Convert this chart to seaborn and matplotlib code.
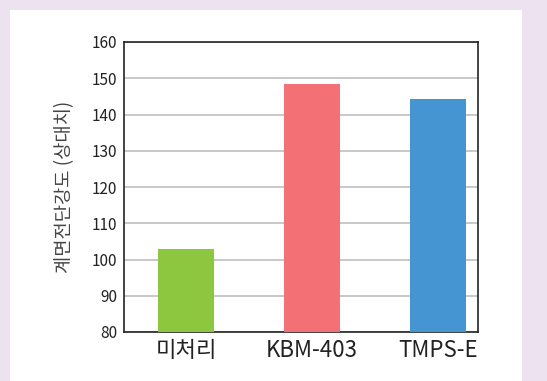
import matplotlib
matplotlib.use("Agg")
import matplotlib.pyplot as plt
import matplotlib.patches as mpatches
import seaborn as sns
import pandas as pd

# data
categories = ["미처리", "KBM-403", "TMPS-E"]
values = [102.9, 148.3, 144.2]
bar_colors = ["#8dc63f", "#f37174", "#4595d3"]
y_ticks = [80, 90, 100, 110, 120, 130, 140, 150, 160]

sns.set_style("white")
plt.rcParams['font.family'] = ['Noto Sans CJK KR', 'DejaVu Sans']

df = pd.DataFrame({"cat": categories, "val": values})

W, H = 547, 381
fig = plt.figure(figsize=(W / 100, H / 100), dpi=100)
fig.patch.set_facecolor("#ede3f0")

# white panel
panel = mpatches.Rectangle((10 / W, 0), (522 - 10) / W, (H - 10) / H,
                           transform=fig.transFigure, facecolor="white",
                           edgecolor="none", zorder=0)
fig.patches.append(panel)

ax = fig.add_axes([124 / W, 1 - 332 / H, (478 - 124) / W, (332 - 42) / H])
ax.set_facecolor("white")
ax.set_zorder(1)

sns.barplot(data=df, x="cat", y="val", hue="cat", palette=bar_colors,
            legend=False, width=0.444, ax=ax, zorder=3, saturation=1,
            edgecolor="none")

ax.set_ylim(80, 160)
ax.set_xlim(-0.492, 2.317)
ax.set_yticks(y_ticks)
ax.yaxis.grid(True, color="#c4c4c4", linewidth=1.3, zorder=0)
ax.set_axisbelow(True)

for s in ax.spines.values():
    s.set_color("#222222")
    s.set_linewidth(1.2)

ax.tick_params(axis="y", labelsize=11, length=0, pad=5, labelcolor="#222222")
ax.tick_params(axis="x", labelsize=16, length=0, pad=5, labelcolor="#222222")
for lbl in ax.get_xticklabels():
    lbl.set_fontweight("medium")
ax.set_xlabel("")
ax.set_ylabel("계면전단강도 (상대치)", fontsize=13.5, color="#444444", labelpad=12)

fig.savefig("out.png", dpi=100, facecolor=fig.get_facecolor())
